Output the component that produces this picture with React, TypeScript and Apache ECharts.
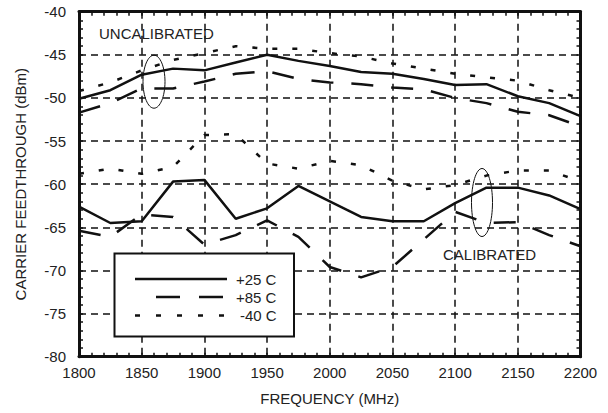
import React, { useEffect, useRef } from "react";
import * as echarts from "echarts";

const freqs = [1800, 1825, 1850, 1875, 1900, 1925, 1950, 1975, 2000, 2025, 2050, 2075, 2100, 2125, 2150, 2175, 2200];

const uncal25 = [-50.1, -49.1, -47.3, -46.6, -46.8, -45.9, -45.0, -45.7, -46.3, -47.0, -47.2, -47.8, -48.5, -48.4, -49.8, -50.6, -52.1];
const uncal85 = [-51.7, -50.6, -48.9, -48.9, -48.1, -47.2, -46.9, -47.8, -48.2, -48.4, -48.8, -49.0, -50.0, -50.6, -51.6, -52.0, -53.3];
const uncalM40 = [-49.2, -48.2, -46.8, -45.6, -44.8, -44.0, -44.3, -44.3, -44.8, -45.2, -46.0, -46.6, -47.2, -47.6, -48.0, -49.1, -50.0];

const cal25 = [-62.6, -64.5, -64.3, -59.7, -59.5, -64.0, -62.8, -60.2, -62.0, -63.8, -64.3, -64.3, -62.2, -60.4, -60.4, -61.3, -62.9];
const cal85 = [-65.4, -66.1, -63.5, -63.8, -67.0, -65.9, -64.2, -66.1, -69.6, -70.8, -69.6, -66.4, -63.2, -64.5, -64.4, -65.9, -67.2];
const calM40 = [-58.8, -58.2, -58.8, -58.0, -54.3, -54.2, -57.6, -58.2, -57.3, -57.8, -59.6, -60.6, -60.1, -59.0, -58.4, -58.4, -59.7];

const legendLabels = ["+25 C", "+85 C", "-40 C"];

const FONT = "Liberation Sans, Arial, Helvetica, sans-serif";
const TXT = "#222";
const FS = 15;

const SOLID = "solid" as const;
const DASH = [22, 18];
const DOT = [5, 15];

const pairs = (ys: number[]) => freqs.map((f, i) => [f, ys[i]]);

export default function App() {
  const ref = useRef<HTMLDivElement>(null);
  useEffect(() => {
    if (!ref.current) return;
    const chart = echarts.init(ref.current, undefined, { renderer: "svg" });
    const mkSeries = (name: string, ys: number[], type: any) => ({
      name,
      type: "line",
      data: pairs(ys),
      symbol: "none",
      lineStyle: { color: "#111", width: 2.5, type, cap: "butt" },
      z: 3,
    });
    const gridLine = { show: true, lineStyle: { color: "#111", width: 1.5, type: [7, 5] } };
    const axisLine = { show: true, lineStyle: { color: "#111", width: 3 } };
    const axisTick = { show: true, inside: true, length: 4, lineStyle: { color: "#111", width: 1.5 } };
    const minorTick = { show: true, splitNumber: 5, length: 4, lineStyle: { color: "#111", width: 1.5 } };
    const label = { color: TXT, fontSize: FS, fontFamily: FONT, formatter: (v: number) => String(v) };
    const txt = (text: string, x: number, y: number) => ({
      type: "text",
      x,
      y,
      style: { text, fill: TXT, fontSize: FS, fontFamily: FONT, verticalAlign: "middle" },
      z: 21,
    });

    chart.setOption({
      animation: false,
      backgroundColor: "#fff",
      grid: { left: 79, right: 27.5, top: 11.7, bottom: 56.3 },
      xAxis: [
        {
          type: "value",
          min: 1800,
          max: 2200,
          interval: 50,
          name: "FREQUENCY (MHz)",
          nameLocation: "middle",
          nameGap: 34,
          nameTextStyle: { color: TXT, fontSize: FS, fontFamily: FONT },
          axisLine,
          axisTick,
          minorTick,
          splitLine: gridLine,
          axisLabel: { ...label, margin: 8 },
        },
        {
          type: "value",
          position: "top",
          min: 1800,
          max: 2200,
          interval: 50,
          axisLine,
          axisTick,
          minorTick,
          splitLine: { show: false },
          axisLabel: { show: false },
        },
      ],
      yAxis: [
        {
          type: "value",
          min: -80,
          max: -40,
          interval: 5,
          name: "CARRIER FEEDTHROUGH (dBm)",
          nameLocation: "middle",
          nameGap: 51,
          nameTextStyle: { color: TXT, fontSize: FS, fontFamily: FONT },
          axisLine,
          axisTick,
          minorTick,
          splitLine: gridLine,
          axisLabel: { ...label, margin: 13 },
        },
        {
          type: "value",
          position: "right",
          min: -80,
          max: -40,
          interval: 5,
          axisLine,
          axisTick,
          minorTick,
          splitLine: { show: false },
          axisLabel: { show: false },
        },
      ],
      series: [
        mkSeries("uncal +25 C", uncal25, SOLID),
        mkSeries("uncal +85 C", uncal85, DASH),
        mkSeries("uncal -40 C", uncalM40, DOT),
        mkSeries("cal +25 C", cal25, SOLID),
        mkSeries("cal +85 C", cal85, DASH),
        mkSeries("cal -40 C", calM40, DOT),
      ],
      graphic: [
        txt("UNCALIBRATED", 99, 33),
        txt("CALIBRATED", 443, 254),
        {
          type: "ellipse",
          shape: { cx: 154, cy: 81.7, rx: 11, ry: 26.5 },
          style: { fill: "none", stroke: "#111", lineWidth: 1 },
          z: 10,
        },
        {
          type: "ellipse",
          shape: { cx: 482, cy: 202.5, rx: 10.5, ry: 34 },
          style: { fill: "none", stroke: "#111", lineWidth: 1 },
          z: 10,
        },
        {
          type: "group",
          z: 20,
          children: [
            {
              type: "rect",
              shape: { x: 114.5, y: 253.5, width: 179.5, height: 83 },
              style: { fill: "#fff", stroke: "#111", lineWidth: 2 },
              z: 20,
            },
            {
              type: "line",
              shape: { x1: 135, y1: 279, x2: 227, y2: 279 },
              style: { stroke: "#111", lineWidth: 2.5 },
              z: 21,
            },
            {
              type: "line",
              shape: { x1: 156, y1: 297, x2: 224, y2: 297 },
              style: { stroke: "#111", lineWidth: 2.5, lineDash: [24, 19] },
              z: 21,
            },
            {
              type: "line",
              shape: { x1: 135, y1: 315.5, x2: 226, y2: 315.5 },
              style: { stroke: "#111", lineWidth: 2.5, lineDash: [5, 16] },
              z: 21,
            },
            txt(legendLabels[0], 236, 279),
            txt(legendLabels[1], 236, 297),
            txt(legendLabels[2], 240, 315.5),
          ],
        },
      ],
    });
    return () => chart.dispose();
  }, []);
  return (
    <div
      ref={ref}
      style={{ position: "fixed", left: 0, top: 0, width: 608, height: 413, background: "#fff" }}
    />
  );
}
